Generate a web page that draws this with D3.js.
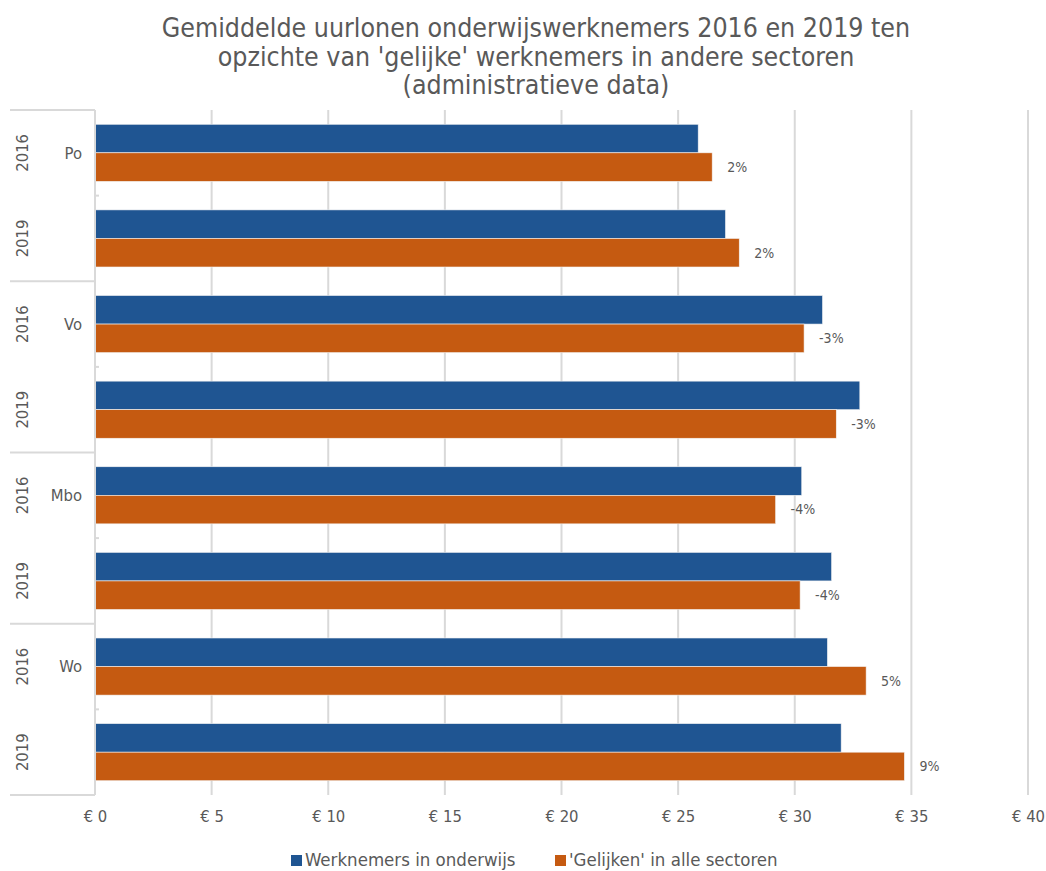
<!DOCTYPE html>
<html>
<head>
<meta charset="utf-8">
<script src="https://cdn.jsdelivr.net/npm/d3@7"></script>
<style>
  body { margin: 0; background: #fff; }
  svg text { font-family: "DejaVu Sans Condensed", "DejaVu Sans", sans-serif; fill: #595959; }
</style>
</head>
<body>
<div id="chart"></div>
<script>
const titleLines = [
  "Gemiddelde uurlonen onderwijswerknemers 2016 en 2019 ten",
  "opzichte van 'gelijke' werknemers in andere sectoren",
  "(administratieve data)"
];
const groups = ["Po", "Vo", "Mbo", "Wo"];
const years = ["2016", "2019"];
const seriesNames = ["Werknemers in onderwijs", "'Gelijken' in alle sectoren"];
const onderwijs = [25.86, 27.03, 31.19, 32.79, 30.3, 31.58, 31.4, 31.99];
const gelijken = [26.46, 27.62, 30.4, 31.78, 29.18, 30.23, 33.06, 34.7];
const verschil = ["2%", "2%", "-3%", "-3%", "-4%", "-4%", "5%", "9%"];
const xTicks = [0, 5, 10, 15, 20, 25, 30, 35, 40];
const colors = ["#1f5592", "#c55a11"];

const width = 1046, height = 871;
const margin = { top: 110, right: 18, bottom: 76, left: 95 };
const innerW = width - margin.left - margin.right;
const innerH = height - margin.top - margin.bottom;

const svg = d3.select("#chart").append("svg")
  .attr("width", width).attr("height", height);

// title
svg.append("g").selectAll("text")
  .data(titleLines).join("text")
  .attr("x", 536).attr("y", (d, i) => 37 + i * 28.5)
  .attr("text-anchor", "middle")
  .style("font-size", "26.5px")
  .text(d => d);

const rows = [];
groups.forEach(g => years.forEach(y => rows.push(g + "|" + y)));

const x = d3.scaleLinear().domain([0, 40]).range([0, innerW]);
const y = d3.scaleBand().domain(rows).range([0, innerH]).paddingInner(0.333).paddingOuter(0.1667);
const sub = d3.scaleBand().domain([0, 1]).range([0, y.bandwidth()]);

const g = svg.append("g").attr("transform", `translate(${margin.left},${margin.top})`);

// grid
g.append("g").selectAll("line")
  .data(xTicks.slice(1)).join("line")
  .attr("x1", d => x(d)).attr("x2", d => x(d))
  .attr("y1", 0).attr("y2", innerH)
  .attr("stroke", "#d9d9d9").attr("stroke-width", 2);

// x axis labels
const xAxis = g.append("g")
  .attr("transform", `translate(0,${innerH})`)
  .call(d3.axisBottom(x).tickValues(xTicks).tickSize(0).tickPadding(15).tickFormat(d => "€ " + d));
xAxis.select(".domain").remove();
xAxis.selectAll("text").style("font-size", "16.5px").attr("fill", "#595959");

// bars
const data = rows.map((r, i) => ({ key: r, vals: [onderwijs[i], gelijken[i]], label: verschil[i] }));
const rowG = g.append("g").selectAll("g")
  .data(data).join("g")
  .attr("transform", d => `translate(0,${y(d.key)})`);

rowG.selectAll("rect")
  .data(d => d.vals.map((v, i) => ({ v, i }))).join("rect")
  .attr("x", 0)
  .attr("y", d => sub(d.i))
  .attr("width", d => x(d.v))
  .attr("height", sub.bandwidth())
  .attr("fill", d => colors[d.i])
  .attr("stroke", "#f4f4f4").attr("stroke-width", 0.6);

rowG.append("text")
  .attr("x", d => x(d.vals[1]) + 15)
  .attr("y", sub(1) + sub.bandwidth() / 2)
  .attr("dy", "0.35em")
  .style("font-size", "14px")
  .attr("fill", "#404040")
  .text(d => d.label);

// left axis
const step = innerH / rows.length;
g.append("line")
  .attr("x1", 0).attr("x2", 0).attr("y1", 0).attr("y2", innerH)
  .attr("stroke", "#d9d9d9").attr("stroke-width", 2);

// row ticks within groups
g.append("g").selectAll("line")
  .data(d3.range(groups.length)).join("line")
  .attr("x1", 0).attr("x2", 4)
  .attr("y1", i => (i * 2 + 1) * step).attr("y2", i => (i * 2 + 1) * step)
  .attr("stroke", "#d9d9d9").attr("stroke-width", 2);

// group separators
g.append("g").selectAll("line")
  .data(d3.range(groups.length + 1)).join("line")
  .attr("x1", -85).attr("x2", 0)
  .attr("y1", i => i * 2 * step).attr("y2", i => i * 2 * step)
  .attr("stroke", "#d9d9d9").attr("stroke-width", 2);

// year labels
g.append("g").selectAll("text")
  .data(rows).join("text")
  .attr("transform", (d, i) => `translate(-73,${(i + 0.5) * step}) rotate(-90)`)
  .attr("text-anchor", "middle")
  .attr("dy", "0.35em")
  .style("font-size", "16.5px")
  .text(d => d.split("|")[1]);

// group labels
g.append("g").selectAll("text")
  .data(groups).join("text")
  .attr("x", -13)
  .attr("y", (d, i) => (i * 2 + 0.5) * step)
  .attr("dy", "0.35em")
  .attr("text-anchor", "end")
  .style("font-size", "16.5px")
  .text(d => d);

// legend
const legend = svg.append("g").attr("transform", `translate(0,860)`);
const legX = [291, 555];
seriesNames.forEach((name, i) => {
  legend.append("rect")
    .attr("x", legX[i]).attr("y", -5).attr("width", 11).attr("height", 11)
    .attr("fill", colors[i]);
  legend.append("text")
    .attr("x", legX[i] + 14).attr("y", 0).attr("dy", "0.35em")
    .style("font-size", "18.5px")
    .text(name);
});
</script>
</body>
</html>
